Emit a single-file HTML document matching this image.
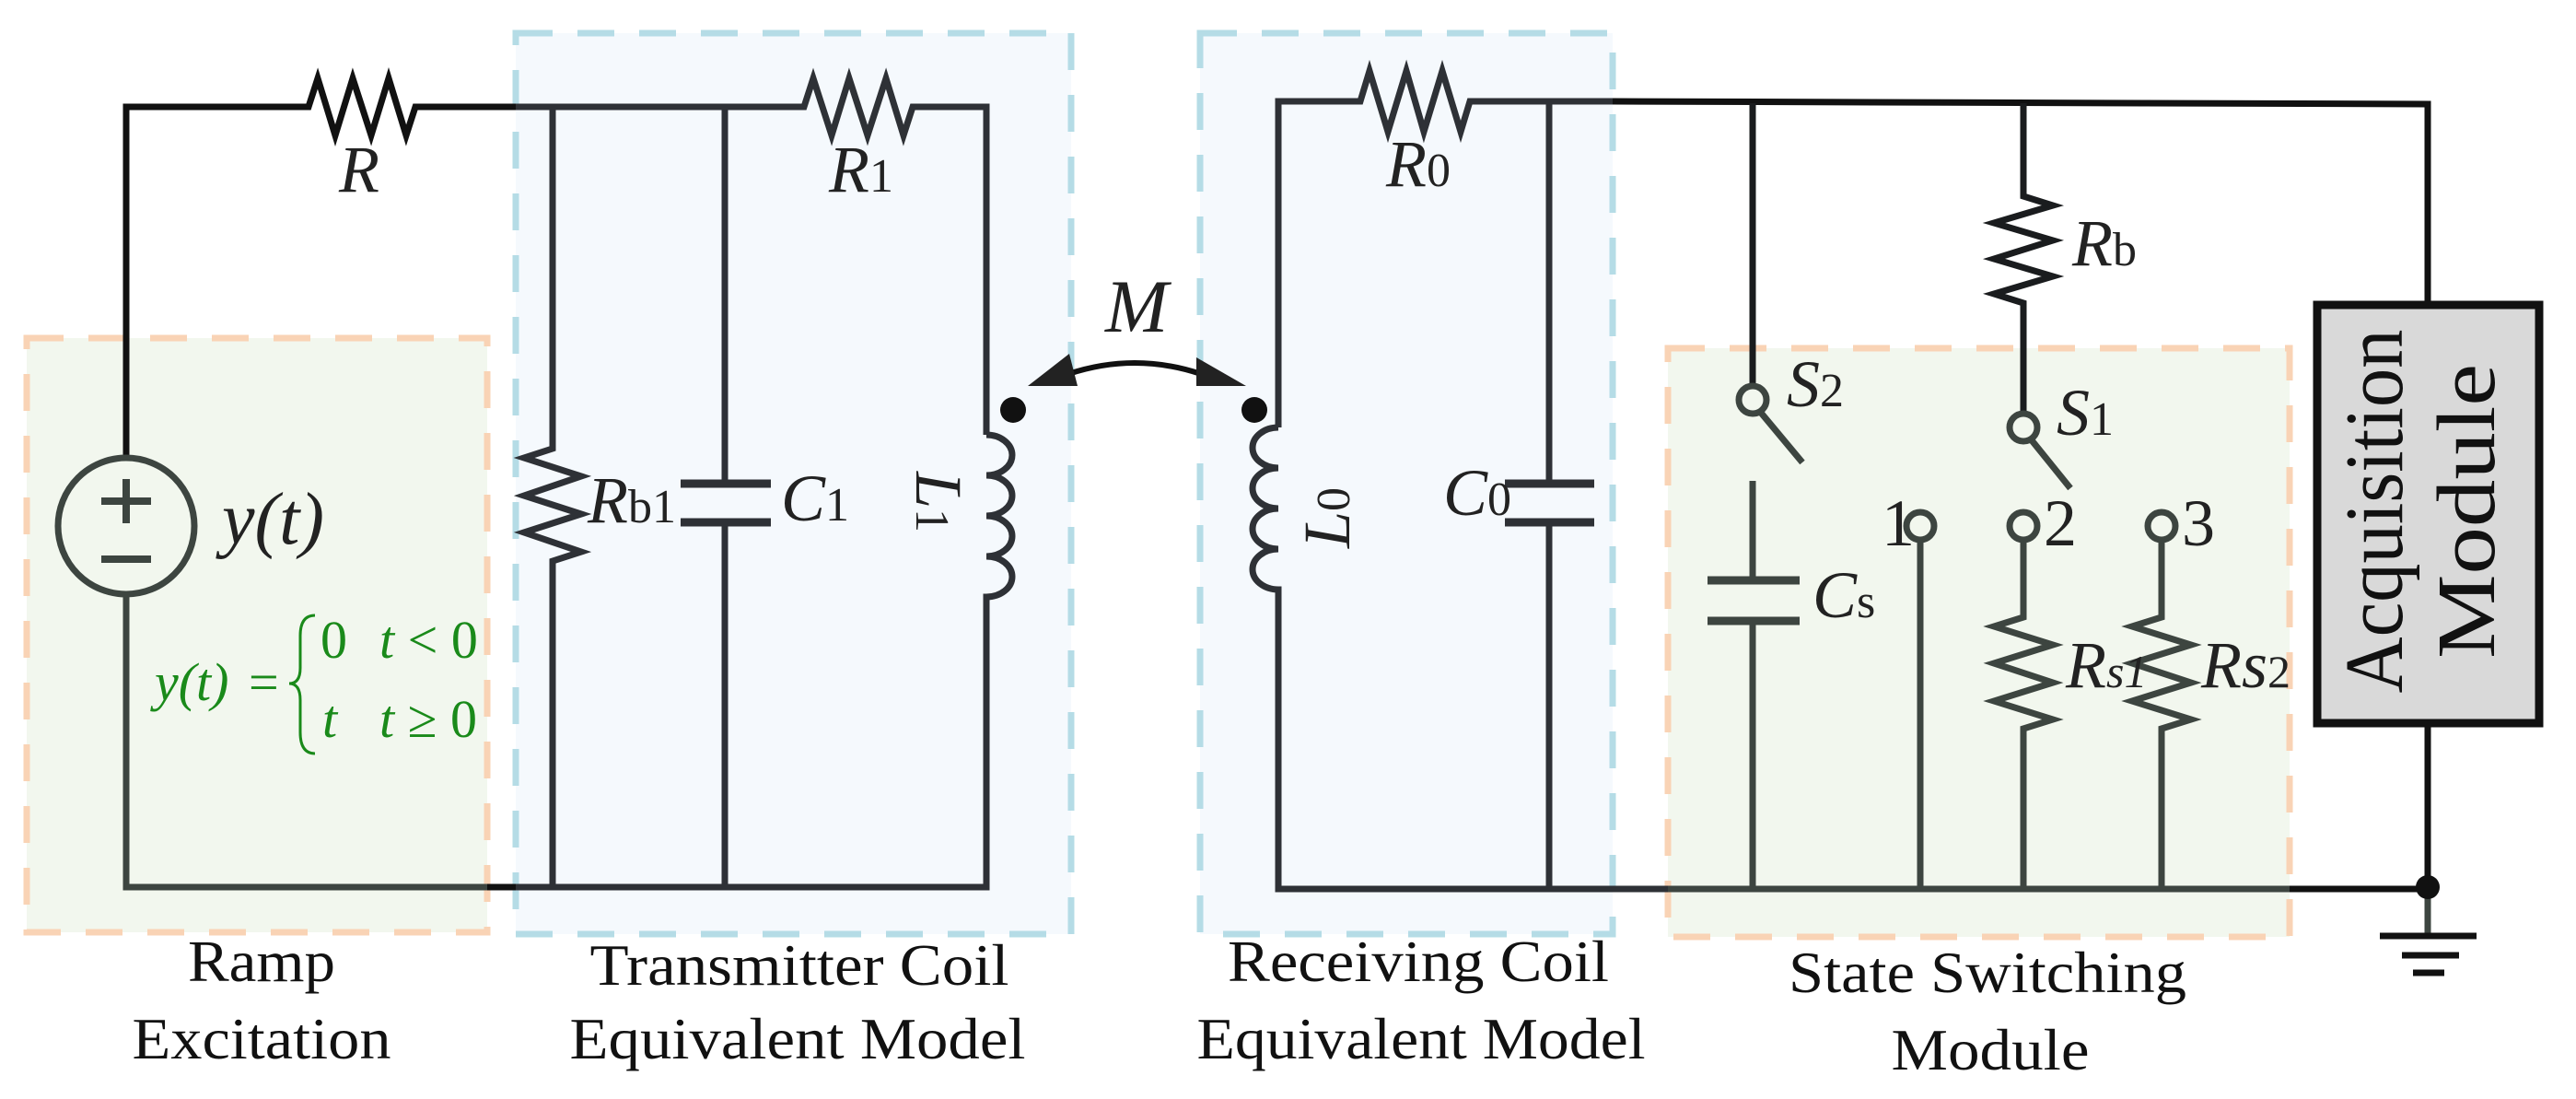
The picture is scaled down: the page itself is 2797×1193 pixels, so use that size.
<!DOCTYPE html>
<html><head><meta charset="utf-8"><style>
html,body{margin:0;padding:0;background:#fff;}
svg{display:block;}
svg text{font-family:"Liberation Serif","Times New Roman",serif;}
</style></head><body>
<svg width="2797" height="1193" viewBox="0 0 2797 1193" xmlns="http://www.w3.org/2000/svg" font-family="Liberation Serif, serif">
<rect x="29" y="367" width="500" height="645" fill="#f2f7ee" stroke="#f9d3b5" stroke-width="7" stroke-dasharray="40 27"/>
<rect x="560" y="36" width="603" height="978" fill="#f5f9fd" stroke="#b5dce6" stroke-width="7" stroke-dasharray="40 27"/>
<rect x="1303" y="36" width="448" height="978" fill="#f5f9fd" stroke="#b5dce6" stroke-width="7" stroke-dasharray="40 27"/>
<rect x="1811" y="378" width="675" height="639" fill="#f2f7ee" stroke="#f9d3b5" stroke-width="7" stroke-dasharray="40 27"/>

<g fill="none" stroke-width="7" stroke-linejoin="miter" stroke-linecap="butt">
<path d="M137 571 V116 H335 L345 85 L364 147 L383 85 L403 147 L422 85 L441 147 L451 116 H560" stroke="#111"/>
<path d="M137 647 V963 H560" stroke="#3d4540"/>
<path d="M529 963 H600" stroke="#111"/>
<path d="M560 116 H873 L883 85 L903 147 L922 85 L942 147 L962 85 L981 147 L991 116 H1071 V472" stroke="#2e3136"/>
<path d="M600 116 V487 L569 497 L631 517 L569 538 L631 558 L569 578 L631 599 L600 609 V963" stroke="#2e3136"/>
<path d="M787 116 V525 M787 567 V963" stroke="#2e3136"/>
<path d="M739 525 H837 M739 567 H837" stroke="#2e3136" stroke-width="9"/>
<path d="M1071 472 a28 22 0 0 1 0 44 a28 22 0 0 1 0 44 a28 22 0 0 1 0 44 a28 22 0 0 1 0 44 V963 H560" stroke="#2e3136"/>
<path d="M1388 464 V110 H1477 L1487 77 L1507 143 L1527 77 L1546 143 L1566 77 L1586 143 L1596 110 H1751" stroke="#2e3136"/>
<path d="M1388 464 a28 22 0 0 0 0 44 a28 22 0 0 0 0 44 a28 22 0 0 0 0 44 a28 22 0 0 0 0 44 V965 H1811" stroke="#2e3136"/>
<path d="M1682 110 V525 M1682 567 V965" stroke="#2e3136"/>
<path d="M1634 525 H1731 M1634 567 H1731" stroke="#2e3136" stroke-width="9"/>
<path d="M1751 110 L2636 113 V331" stroke="#111"/>
<path d="M1903 112 V418 M2197 112 V213 L2229 223 L2165 242 L2229 261 L2165 281 L2229 300 L2165 319 L2197 329 V448" stroke="#1a1c1e"/>
<path d="M1811 965 H2636 V1016" stroke="#3d4540"/>
<path d="M2486 965 H2636 V785" stroke="#111"/>
<path d="M1912 448 L1957 502" stroke="#3d4540"/>
<path d="M2206 478 L2248 530" stroke="#3d4540"/>
<path d="M1903 522 V630 M1903 674 V965" stroke="#3d4540"/>
<path d="M1854 630 H1954 M1854 674 H1954" stroke="#3d4540" stroke-width="9"/>
<path d="M2085 587 V965" stroke="#3d4540"/>
<path d="M2197 587 V670 L2165 680 L2229 700 L2165 720 L2229 741 L2165 761 L2229 781 L2197 791 V965" stroke="#3d4540"/>
<path d="M2347 587 V670 L2315 680 L2379 700 L2315 720 L2379 741 L2315 761 L2379 781 L2347 791 V965" stroke="#3d4540"/>
<g stroke="#3d4540" fill="#f2f7ee">
<circle cx="1903" cy="434" r="15"/>
<circle cx="2197" cy="464" r="15"/>
<circle cx="2085" cy="571" r="15"/>
<circle cx="2197" cy="571" r="15"/>
<circle cx="2347" cy="571" r="15"/>
</g>
<path d="M2584 1016 H2689 M2608 1037 H2670 M2620 1056 H2654" stroke="#111"/>
<circle cx="137" cy="571" r="74" stroke="#3d4540" fill="#f2f7ee"/>
<path d="M110 544 H164 M137 520 V568 M110 607 H164" stroke="#3d4540" stroke-width="8"/>
<path d="M1160 406 Q1232 382 1304 406" stroke="#111" stroke-width="6"/>
</g>
<circle cx="2636" cy="963" r="13" fill="#111"/>
<circle cx="1100" cy="445" r="14" fill="#111"/>
<circle cx="1362" cy="445" r="14" fill="#111"/>
<polygon points="1116,419 1161,384 1170,419" fill="#222"/>
<polygon points="1299,388 1353,419 1299,419" fill="#222"/>
<rect x="2516" y="331" width="241" height="454" fill="#d9d9d9" stroke="#111" stroke-width="9"/>
<text transform="translate(2608,555) rotate(-90)" font-size="90" text-anchor="middle" fill="#111" textLength="395" lengthAdjust="spacingAndGlyphs">Acquisition</text>
<text transform="translate(2708,555) rotate(-90)" font-size="90" text-anchor="middle" fill="#111" textLength="320" lengthAdjust="spacingAndGlyphs">Module</text>

<g fill="#222" font-size="72" font-style="italic">
<text x="368" y="208">R</text>
<text x="900" y="208">R<tspan font-style="normal" font-size="52">1</tspan></text>
<text x="1505" y="202">R<tspan font-style="normal" font-size="52">0</tspan></text>
<text x="638" y="567">R<tspan font-style="normal" font-size="52">b1</tspan></text>
<text x="848" y="565">C<tspan font-style="normal" font-size="52">1</tspan></text>
<text x="1567" y="559">C<tspan font-style="normal" font-size="52">0</tspan></text>
<text transform="translate(995,512) rotate(90)">L<tspan font-style="normal" font-size="52">1</tspan></text>
<text transform="translate(1465,595) rotate(-90)">L<tspan font-style="normal" font-size="52">0</tspan></text>
<text x="1200" y="360" font-size="82">M</text>
<text x="241" y="590" font-size="80">y(t)</text>
<text x="2250" y="288">R<tspan font-style="normal" font-size="52">b</tspan></text>
<text x="1940" y="441">S<tspan font-style="normal" font-size="52">2</tspan></text>
<text x="2233" y="472">S<tspan font-style="normal" font-size="52">1</tspan></text>
<text x="1968" y="670">C<tspan font-style="normal" font-size="52">s</tspan></text>
<text x="2243" y="746">R<tspan font-size="50">s1</tspan></text>
<text x="2390" y="746">Rs<tspan font-style="normal" font-size="50">2</tspan></text>
<text x="2043" y="592" font-style="normal">1</text>
<text x="2219" y="592" font-style="normal">2</text>
<text x="2369" y="592" font-style="normal">3</text>
</g>
<g fill="#1a8a1a" font-size="58">
<text x="168" y="760" font-style="italic">y(t)</text>
<text x="270" y="760">=</text>
<path d="M342 668 Q326 668 326 690 V725 Q326 742 314 742 Q326 742 326 760 V795 Q326 818 342 818" fill="none" stroke="#1a8a1a" stroke-width="3"/>
<text x="348" y="714">0</text>
<text x="412" y="714"><tspan font-style="italic">t</tspan> &lt; 0</text>
<text x="350" y="800" font-style="italic">t</text>
<text x="412" y="800"><tspan font-style="italic">t</tspan> ≥ 0</text>
</g>
<g fill="#111" font-size="64" text-anchor="middle">
<text x="284" y="1065" textLength="160" lengthAdjust="spacingAndGlyphs">Ramp</text>
<text x="284" y="1149" textLength="281" lengthAdjust="spacingAndGlyphs">Excitation</text>
<text x="868" y="1069" textLength="455" lengthAdjust="spacingAndGlyphs">Transmitter Coil</text>
<text x="866" y="1149" textLength="495" lengthAdjust="spacingAndGlyphs">Equivalent Model</text>
<text x="1540" y="1065" textLength="414" lengthAdjust="spacingAndGlyphs">Receiving Coil</text>
<text x="1543" y="1149" textLength="487" lengthAdjust="spacingAndGlyphs">Equivalent Model</text>
<text x="2158" y="1077" textLength="432" lengthAdjust="spacingAndGlyphs">State Switching</text>
<text x="2161" y="1161" textLength="215" lengthAdjust="spacingAndGlyphs">Module</text>
</g>
</svg>
</body></html>
